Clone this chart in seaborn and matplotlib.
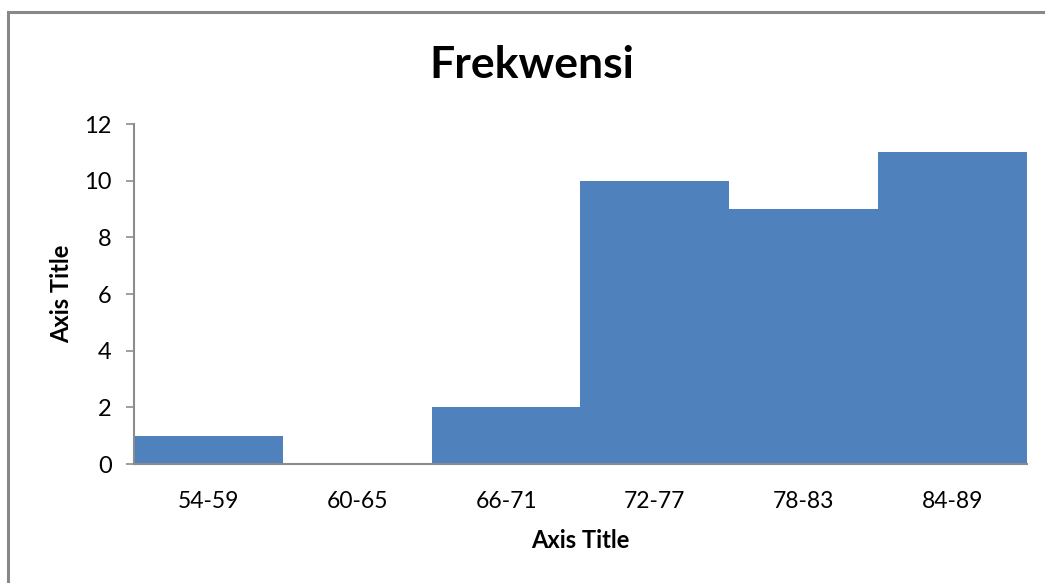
import pandas as pd
import matplotlib.pyplot as plt
import seaborn as sns
from matplotlib.patches import Rectangle

# data
kelas = ['54-59', '60-65', '66-71', '72-77', '78-83', '84-89']
frekwensi = [1, 0, 2, 10, 9, 11]

df = pd.DataFrame({'kelas': kelas, 'frekwensi': frekwensi})

sns.set_style('white')
plt.rcParams['font.family'] = ['Lato', 'DejaVu Sans']
plt.rcParams['text.color'] = 'black'
plt.rcParams['axes.labelcolor'] = 'black'
plt.rcParams['xtick.color'] = 'black'
plt.rcParams['ytick.color'] = 'black'

fig = plt.figure(figsize=(10.45, 5.83), dpi=100)
ax = fig.add_axes([0.1282, 0.2041, 0.8546, 0.5832])

sns.barplot(data=df, x='kelas', y='frekwensi', color='#4F81BD', saturation=1,
            width=1.0, linewidth=0, ax=ax)

ax.set_xlim(-0.5, 5.5)
ax.set_ylim(0, 12)
ax.set_yticks(range(0, 13, 2))
fig.text(532 / 1045, 1 - 65 / 583, 'Frekwensi', fontsize=32, fontweight='bold',
         ha='center', va='center')
ax.set_xlabel('Axis Title', fontsize=17, fontweight='bold', labelpad=12)
ax.set_ylabel('Axis Title', fontsize=17, fontweight='bold', labelpad=8)

for s in ['top', 'right']:
    ax.spines[s].set_visible(False)
for s in ['left', 'bottom']:
    ax.spines[s].set_color('#8C8C8C')
    ax.spines[s].set_linewidth(1.5)

ax.tick_params(axis='y', which='both', left=True, length=6, width=1.2,
               color='#8C8C8C', labelcolor='black', labelsize=17, pad=10)
ax.tick_params(axis='x', bottom=False, labelcolor='black', labelsize=16.5, pad=16)

# chart area frame
fig.patches.append(Rectangle((8 / 1045, -0.1), 1.2, 1 - 12 / 583 + 0.1,
                             transform=fig.transFigure, fill=False,
                             edgecolor='#888888', linewidth=2.2))

fig.savefig('out.png', dpi=100)
